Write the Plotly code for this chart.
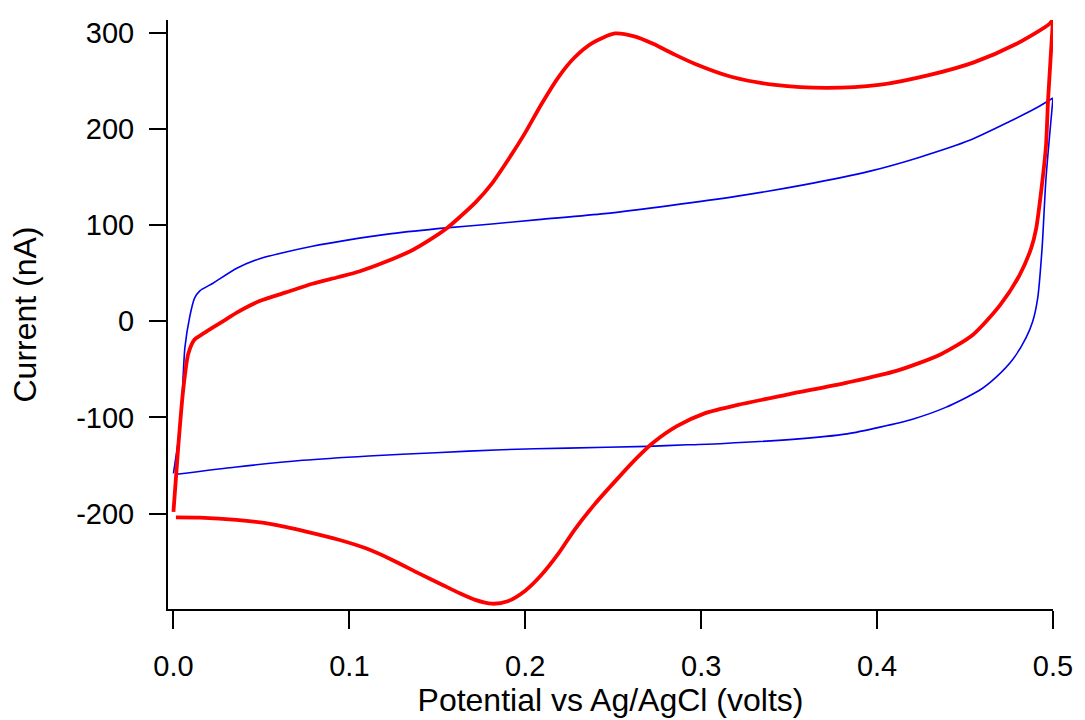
import plotly.graph_objects as go

# Red trace (thick): forward scan (0 -> 0.5 V)
red_fwd_potential = [
    0.0000, 0.0027, 0.0055, 0.0084, 0.0120, 0.0160, 0.0220, 0.0290, 0.0360,
    0.0490, 0.0640, 0.0790, 0.0940, 0.1060, 0.1210, 0.1360, 0.1470, 0.1550, 0.1620,
    0.1720, 0.1810, 0.1900, 0.2000, 0.2090, 0.2190, 0.2280, 0.2380, 0.2510, 0.2620,
    0.2730, 0.2850, 0.2970, 0.3170, 0.3420, 0.3715, 0.4010, 0.4300, 0.4550, 0.4790,
    0.4980, 0.5000,
]
red_fwd_current = [
    -198, -131, -72, -34, -19, -14, -7, 1, 9,
    21, 30, 39, 46, 52, 62, 74, 86, 96, 107,
    124, 143, 167, 196, 225, 254, 274, 289, 299, 296,
    288, 277, 267, 254, 245.5, 242.5, 245.5, 256, 269, 288,
    309, 314,
]
# Red trace: reverse scan (0.5 -> 0 V)
red_rev_potential = [
    0.5000, 0.4972, 0.4960, 0.4930, 0.4904, 0.4876, 0.4810, 0.4700, 0.4545, 0.4360,
    0.4110, 0.3830, 0.3496, 0.3208, 0.3016, 0.2862, 0.2728, 0.2640, 0.2527, 0.2395,
    0.2280, 0.2190, 0.2090, 0.2000, 0.1900, 0.1810, 0.1716, 0.1620, 0.1530, 0.1395,
    0.1244, 0.1090, 0.0940, 0.0754, 0.0565, 0.0358, 0.0150, 0.0014,
]
red_rev_current = [
    314, 230, 182, 131, 96, 76, 48, 17, -14, -34.5,
    -51.6, -63.7, -76, -87, -96, -109, -126, -141, -163, -190,
    -216.7, -241, -264, -280, -291, -293.5, -289.5, -282, -274, -262,
    -248, -235.7, -227, -218.5, -211, -206.4, -204, -203.7,
]

# Blue trace (thin): forward scan
blue_fwd_potential = [
    0.0000, 0.0027, 0.0046, 0.0065, 0.0093, 0.0120, 0.0150, 0.0225, 0.0360, 0.0490,
    0.0640, 0.0790, 0.0980, 0.1240, 0.1550, 0.1810, 0.2074, 0.2450, 0.2830, 0.3206,
    0.3583, 0.3960, 0.4243, 0.4526, 0.4753, 0.4904, 0.5000,
]
blue_fwd_current = [
    -158, -124, -89.5, -27.5, 5, 24, 31.6, 39.5, 55, 65,
    72, 78, 84, 91, 97, 101, 105.6, 111.8, 120.4, 130,
    141.7, 156, 170.5, 188, 207.5, 221.5, 232,
]
# Blue trace: reverse scan
blue_rev_potential = [
    0.5000, 0.4960, 0.4938, 0.4913, 0.4885, 0.4847, 0.4770, 0.4677, 0.4580, 0.4390,
    0.4206, 0.4017, 0.3830, 0.3520, 0.3130, 0.2923, 0.2697, 0.2240, 0.1866, 0.1490,
    0.1110, 0.0735, 0.0358, 0.0018,
]
blue_rev_current = [
    232, 148, 76, 24, 0, -17, -40, -58, -72, -89.5,
    -101.5, -110, -117, -122.7, -127, -128.4, -130, -131.8, -133.5, -136.6,
    -140, -144.5, -151.4, -159,
]

x_ticks = [0.0, 0.1, 0.2, 0.3, 0.4, 0.5]
x_tick_labels = ["0.0", "0.1", "0.2", "0.3", "0.4", "0.5"]
y_ticks = [-200, -100, 0, 100, 200, 300]
y_tick_labels = ["-200", "-100", "0", "100", "200", "300"]

FONT = "Liberation Sans, Arial, sans-serif"
BLUE = "#0000ee"
RED = "#ff0000"

fig = go.Figure()
for xs, ys in [(blue_fwd_potential, blue_fwd_current), (blue_rev_potential, blue_rev_current)]:
    fig.add_trace(go.Scatter(
        x=xs, y=ys, mode="lines",
        line=dict(color=BLUE, width=1.6, shape="spline", smoothing=0.7),
        showlegend=False,
    ))
for xs, ys in [(red_fwd_potential, red_fwd_current), (red_rev_potential, red_rev_current)]:
    fig.add_trace(go.Scatter(
        x=xs, y=ys, mode="lines",
        line=dict(color=RED, width=3.8, shape="spline", smoothing=0.7),
        showlegend=False,
    ))

fig.update_layout(
    width=1085, height=720,
    margin=dict(l=168, r=28, t=20, b=107),
    paper_bgcolor="white", plot_bgcolor="white",
    font=dict(family=FONT, color="black", size=29),
)
fig.update_xaxes(
    range=[-0.0031, 0.5], showgrid=False, zeroline=False,
    showline=True, linecolor="black", linewidth=2,
    ticks="outside", ticklen=18, tickwidth=2, tickcolor="black",
    tickvals=x_ticks, ticktext=x_tick_labels,
    tickfont=dict(size=29, family=FONT, color="black"),
    ticklabelstandoff=12,
    title=dict(text="Potential vs Ag/AgCl (volts)", font=dict(size=32, family=FONT, color="black"), standoff=4),
)
fig.update_yaxes(
    range=[-299, 313], showgrid=False, zeroline=False,
    showline=True, linecolor="black", linewidth=2,
    ticks="outside", ticklen=17, tickwidth=2, tickcolor="black",
    tickvals=y_ticks, ticktext=y_tick_labels,
    tickfont=dict(size=29, family=FONT, color="black"),
    ticklabelstandoff=9,
    title=dict(text="Current (nA)", font=dict(size=32, family=FONT, color="black"), standoff=30),
)

fig.write_html("out.html")
